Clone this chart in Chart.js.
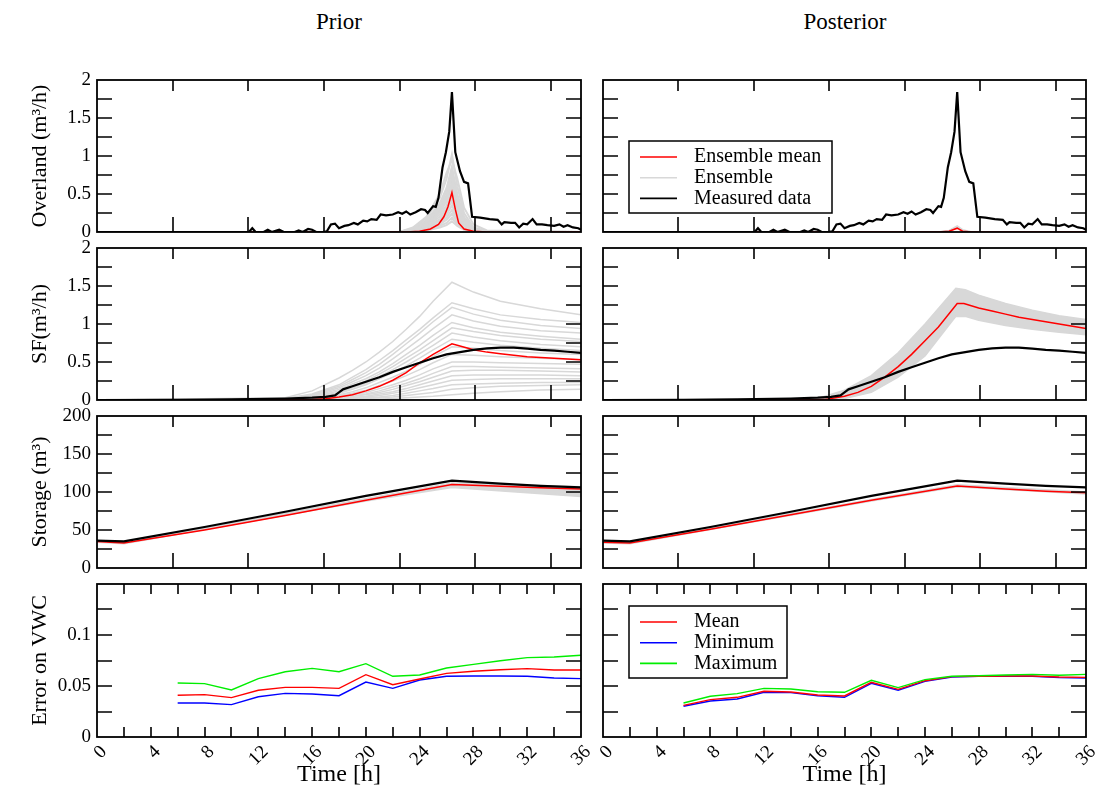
<!DOCTYPE html>
<html>
<head>
<meta charset="utf-8">
<title>Prior / Posterior</title>
<script src="https://cdn.jsdelivr.net/npm/chart.js"></script>
<style>
  body { margin: 0; background: #fff; }
  #figure { position: relative; width: 1102px; height: 797px; overflow: hidden; font-family: "Liberation Serif", "Times New Roman", serif; }
  #figure canvas { position: absolute; }
  .col-title { position: absolute; top: 10px; width: 484px; text-align: center; font-size: 23px; line-height: 23px; color: #000; }
</style>
</head>
<body>
<div id="figure">
  <div class="col-title" style="left:97px">Prior</div>
  <div class="col-title" style="left:603px">Posterior</div>
</div>
<script>
// ---------- tick positions ----------
const coarseTickTimes = [5.625, 11.25, 16.875, 22.5, 28.125, 33.75];
const fineTickTimes = [2, 4, 6, 8, 10, 12, 14, 16, 18, 20, 22, 24, 26, 28, 30, 32, 34];
const flowTickValues = [0.25, 0.5, 0.75, 1, 1.25, 1.5, 1.75];
const storageTickValues = [25, 50, 75, 100, 125, 150, 175];
const vwcTickValues = [0.025, 0.05, 0.075, 0.1, 0.125];

// ---------- overland flow [time h, m3/h] ----------
const overlandMeasured = [
  [0, 0], [11.3, 0], [11.55, 0.05], [11.8, 0], [12.4, 0], [12.7, 0.03], [13.0, 0],
  [13.55, 0.03], [13.9, 0], [14.7, 0], [15.0, 0.02], [15.3, 0], [15.7, 0.04], [16.0, 0.03],
  [16.3, 0], [16.8, 0], [17.1, 0.01], [17.4, 0.1], [17.7, 0.11], [18.0, 0.05], [18.4, 0.08],
  [18.7, 0.09], [19.1, 0.12], [19.4, 0.1], [19.8, 0.15], [20.1, 0.14], [20.4, 0.17], [20.8, 0.16],
  [21.1, 0.23], [21.5, 0.22], [22.0, 0.23], [22.4, 0.26], [22.7, 0.24], [23.0, 0.27], [23.3, 0.23],
  [23.7, 0.26], [24.1, 0.3], [24.4, 0.29], [24.6, 0.25], [25.0, 0.34], [25.2, 0.33], [25.4, 0.45],
  [25.7, 0.85], [25.95, 1.05], [26.2, 1.32], [26.4, 1.84], [26.65, 1.05], [27.0, 0.8], [27.3, 0.66],
  [27.6, 0.64], [27.9, 0.2], [28.5, 0.19], [29.2, 0.17], [29.8, 0.16], [30.1, 0.1], [30.3, 0.13],
  [30.8, 0.12], [31.1, 0.12], [31.4, 0.06], [31.7, 0.11], [32.0, 0.1], [32.4, 0.17], [32.7, 0.1],
  [33.1, 0.1], [33.5, 0.09], [34.0, 0.08], [34.4, 0.1], [34.7, 0.07], [35.0, 0.09], [35.4, 0.06],
  [35.8, 0.05], [36, 0.03]
];
const priorOverlandMean = [
  [0, 0], [23, 0], [24, 0.01], [24.8, 0.04], [25.4, 0.1], [25.8, 0.2], [26.1, 0.33], [26.4, 0.52],
  [26.65, 0.3], [26.9, 0.12], [27.3, 0.04], [28, 0.01], [29, 0], [36, 0]
];
const priorOverlandEnsTime = [0, 22.5, 23.5, 24.5, 25.5, 26, 26.4, 26.8, 27.3, 28, 29, 36];
const priorOverlandEns = [
  [0, 0, 0.05, 0.18, 0.45, 0.7, 1.02, 0.6, 0.25, 0.06, 0.01, 0],
  [0, 0, 0.06, 0.2, 0.5, 0.78, 0.95, 0.7, 0.32, 0.1, 0.02, 0],
  [0, 0, 0.04, 0.15, 0.38, 0.58, 0.86, 0.5, 0.2, 0.05, 0.01, 0],
  [0, 0, 0.04, 0.14, 0.34, 0.53, 0.79, 0.46, 0.18, 0.05, 0.01, 0],
  [0, 0, 0.03, 0.12, 0.31, 0.48, 0.72, 0.42, 0.16, 0.04, 0.01, 0],
  [0, 0, 0.03, 0.11, 0.28, 0.44, 0.66, 0.38, 0.14, 0.04, 0, 0],
  [0, 0, 0.03, 0.1, 0.26, 0.4, 0.6, 0.34, 0.13, 0.03, 0, 0],
  [0, 0, 0.02, 0.09, 0.23, 0.35, 0.53, 0.3, 0.11, 0.03, 0, 0],
  [0, 0, 0.02, 0.08, 0.2, 0.31, 0.47, 0.26, 0.1, 0.02, 0, 0],
  [0, 0, 0.01, 0.07, 0.17, 0.27, 0.41, 0.22, 0.08, 0.02, 0, 0],
  [0, 0, 0.01, 0.06, 0.15, 0.23, 0.35, 0.19, 0.07, 0.02, 0, 0],
  [0, 0, 0.01, 0.05, 0.12, 0.19, 0.29, 0.16, 0.06, 0.01, 0, 0],
  [0, 0, 0.01, 0.04, 0.1, 0.16, 0.24, 0.13, 0.05, 0.01, 0, 0],
  [0, 0, 0, 0.03, 0.08, 0.12, 0.19, 0.1, 0.04, 0.01, 0, 0],
  [0, 0, 0, 0.02, 0.06, 0.09, 0.14, 0.08, 0.03, 0.01, 0, 0]
];
const postOverlandMean = [[0, 0], [25, 0], [25.8, 0.01], [26.4, 0.05], [26.8, 0.01], [27.5, 0], [36, 0]];
const postOverlandEnsTime = [0, 25, 25.8, 26.4, 26.8, 27.5, 36];
const postOverlandEns = [
  [0, 0, 0.02, 0.08, 0.03, 0, 0],
  [0, 0, 0.015, 0.065, 0.02, 0, 0]
];

// ---------- subsurface flow SF [time h, m3/h] ----------
const sfMeasured = [
  [0, 0], [6, 0.003], [10, 0.008], [14, 0.02], [16, 0.03], [17, 0.04], [17.7, 0.06], [18.0, 0.1],
  [18.3, 0.14], [19, 0.18], [20, 0.24], [21, 0.3], [22, 0.37], [23, 0.43], [24, 0.49], [25, 0.55],
  [26, 0.6], [27, 0.63], [28, 0.66], [29, 0.68], [30, 0.69], [31, 0.69], [32, 0.675], [33, 0.66],
  [34, 0.65], [35, 0.635], [36, 0.62]
];
const priorSfMean = [
  [0, 0], [14, 0.002], [16, 0.008], [17, 0.015], [18, 0.04], [19, 0.07], [20, 0.12], [21, 0.18],
  [22, 0.26], [23, 0.36], [24, 0.49], [25, 0.6], [26.4, 0.74], [27.2, 0.7], [28, 0.66], [29, 0.63],
  [30, 0.61], [31, 0.59], [32, 0.57], [33, 0.56], [34, 0.55], [35, 0.54], [36, 0.53]
];
const priorSfEnsTime = [0, 14, 16, 18, 19, 20, 21, 22, 23, 24, 25, 26.4, 28, 30, 33, 36];
const priorSfEns = [
  [0, 0.03, 0.12, 0.29, 0.39, 0.5, 0.63, 0.77, 0.93, 1.1, 1.3, 1.55, 1.42, 1.3, 1.2, 1.12],
  [0, 0.02, 0.08, 0.2, 0.3, 0.4, 0.52, 0.65, 0.79, 0.93, 1.08, 1.28, 1.2, 1.12, 1.06, 1.02],
  [0, 0.02, 0.07, 0.18, 0.27, 0.36, 0.47, 0.6, 0.74, 0.88, 1.03, 1.22, 1.13, 1.05, 0.98, 0.94],
  [0, 0.01, 0.06, 0.16, 0.24, 0.32, 0.42, 0.54, 0.67, 0.8, 0.94, 1.12, 1.04, 0.97, 0.91, 0.88],
  [0, 0.01, 0.05, 0.14, 0.21, 0.28, 0.37, 0.48, 0.6, 0.72, 0.85, 1.02, 0.95, 0.89, 0.84, 0.8],
  [0, 0.01, 0.04, 0.12, 0.18, 0.25, 0.34, 0.44, 0.55, 0.66, 0.78, 0.95, 0.9, 0.85, 0.8, 0.77],
  [0, 0.01, 0.04, 0.1, 0.16, 0.22, 0.31, 0.4, 0.5, 0.61, 0.72, 0.88, 0.83, 0.78, 0.73, 0.7],
  [0, 0.01, 0.03, 0.09, 0.14, 0.2, 0.28, 0.36, 0.45, 0.55, 0.66, 0.8, 0.76, 0.72, 0.68, 0.65],
  [0, 0, 0.02, 0.07, 0.11, 0.16, 0.23, 0.3, 0.38, 0.47, 0.57, 0.7, 0.68, 0.65, 0.62, 0.6],
  [0, 0, 0.02, 0.06, 0.09, 0.13, 0.19, 0.25, 0.32, 0.4, 0.49, 0.6, 0.59, 0.57, 0.55, 0.53],
  [0, 0, 0.01, 0.04, 0.07, 0.1, 0.15, 0.2, 0.26, 0.33, 0.41, 0.5, 0.5, 0.49, 0.48, 0.47],
  [0, 0, 0.01, 0.03, 0.05, 0.08, 0.12, 0.17, 0.22, 0.28, 0.35, 0.44, 0.44, 0.43, 0.42, 0.41],
  [0, 0, 0.01, 0.03, 0.05, 0.07, 0.1, 0.14, 0.19, 0.24, 0.3, 0.38, 0.39, 0.39, 0.38, 0.37],
  [0, 0, 0, 0.02, 0.03, 0.05, 0.08, 0.11, 0.15, 0.2, 0.25, 0.32, 0.33, 0.33, 0.33, 0.32],
  [0, 0, 0, 0.02, 0.03, 0.04, 0.06, 0.09, 0.12, 0.16, 0.2, 0.26, 0.27, 0.28, 0.28, 0.28],
  [0, 0, 0, 0.01, 0.02, 0.03, 0.04, 0.06, 0.09, 0.12, 0.15, 0.2, 0.21, 0.22, 0.23, 0.23],
  [0, 0, 0, 0.01, 0.01, 0.02, 0.03, 0.04, 0.06, 0.08, 0.1, 0.14, 0.16, 0.18, 0.19, 0.2],
  [0, 0, 0, 0, 0, 0.01, 0.01, 0.02, 0.03, 0.04, 0.05, 0.07, 0.09, 0.11, 0.13, 0.14]
];
const postSfMean = [
  [0, 0], [15, 0], [16.5, 0.005], [18, 0.05], [19, 0.1], [20, 0.18], [21, 0.3], [22, 0.44],
  [23, 0.6], [24, 0.78], [25, 0.96], [26.4, 1.27], [26.9, 1.27], [28, 1.21], [29, 1.17],
  [30, 1.13], [31, 1.09], [32, 1.06], [33, 1.03], [34, 1.0], [35, 0.97], [36, 0.94]
];
const postSfBandTime = [0, 15, 16, 18, 20, 22, 24, 26.3, 27, 28, 30, 32, 34, 36];
const postSfUpper = [0, 0, 0.02, 0.13, 0.32, 0.62, 1.0, 1.47, 1.45, 1.38, 1.27, 1.18, 1.11, 1.06];
const postSfLower = [0, 0, 0, 0.02, 0.1, 0.3, 0.58, 1.1, 1.1, 1.05, 0.98, 0.93, 0.89, 0.86];

// ---------- storage [time h, m3] ----------
const storageMeasured = [[0, 36], [2, 35], [8, 54], [14, 74], [20, 95], [26.4, 115], [30, 111], [33, 108], [36, 106]];
const priorStorageMean = [[0, 35], [2, 33], [8, 50], [14, 69], [20, 89], [26.4, 110], [30, 107.5], [33, 105.5], [36, 104]];
const priorStorageUpper = [[0, 36], [2, 34], [20, 91], [26.4, 112], [36, 107]];
const priorStorageLower = [[0, 34], [2, 32], [20, 88], [26.4, 106], [36, 94]];
const postStorageMean = [[0, 34], [2, 33], [8, 51], [14, 70], [20, 89], [26.4, 108], [30, 104], [33, 101], [36, 99]];
const postStorageUpper = [[0, 35], [2, 34], [20, 90], [26.4, 109.5], [36, 100]];
const postStorageLower = [[0, 33], [2, 32], [20, 88], [26.4, 107], [36, 97.5]];

// ---------- error on VWC ----------
const vwcTimes = [6, 8, 10, 12, 14, 16, 18, 20, 22, 24, 26, 28, 30, 32, 34, 36];
const priorVwcMean = [0.041, 0.0415, 0.0386, 0.0458, 0.0487, 0.0487, 0.0477, 0.0611, 0.0513, 0.0569, 0.0624, 0.0644, 0.066, 0.067, 0.0657, 0.0657];
const priorVwcMin = [0.0333, 0.0333, 0.0317, 0.0395, 0.0428, 0.0422, 0.0405, 0.0539, 0.0477, 0.0559, 0.0595, 0.0598, 0.0598, 0.0595, 0.0578, 0.0572];
const priorVwcMax = [0.0529, 0.0523, 0.0461, 0.0572, 0.064, 0.0673, 0.064, 0.0719, 0.0595, 0.0608, 0.0676, 0.0712, 0.0748, 0.0778, 0.0784, 0.0801];
const postVwcMean = [0.031, 0.0366, 0.0389, 0.0448, 0.0441, 0.0412, 0.0402, 0.0536, 0.0467, 0.0552, 0.0592, 0.0595, 0.0598, 0.0598, 0.0588, 0.0585];
const postVwcMin = [0.0301, 0.0353, 0.0373, 0.0438, 0.0435, 0.0405, 0.0389, 0.0526, 0.0458, 0.0546, 0.0588, 0.0595, 0.0595, 0.0595, 0.0582, 0.0578];
const postVwcMax = [0.0333, 0.0399, 0.0425, 0.0477, 0.047, 0.0444, 0.0438, 0.0556, 0.0484, 0.0562, 0.0595, 0.0601, 0.0608, 0.0614, 0.0605, 0.0614];

// ---------- look ----------
const GRAY = '#d8d8d8';
const RED = '#ff0000';
const BLACK = '#000000';
const BLUE = '#0000ff';
const GREEN = '#00ee00';

// panel geometry (canvas boxes); plot areas are 97..581 / 603..1086 wide
// and 80..232, 248..400, 416..568, 584..737 high
const PAD = 18;
const COLS = [
  {left: 0, width: 596, axisW: 97, padRight: 15},
  {left: 590, width: 512, axisW: 13, padRight: 16}
];
const ROWS = [
  {top: 62, height: 188},
  {top: 230, height: 188},
  {top: 398, height: 188},
  {top: 566, height: 231}
];

Chart.defaults.font.family = '"Liberation Serif", "Times New Roman", serif';
Chart.defaults.color = '#000';

/**
 * Box round the plot area, with inward ticks on all four sides
 */
const frameTicks = {
  id: 'frameTicks',
  afterDatasetsDraw(chart, args, opts) {
    const {ctx, chartArea: a, scales: {x, y}} = chart;
    ctx.save();
    ctx.strokeStyle = '#000';
    ctx.lineWidth = 1.6;
    ctx.beginPath();
    opts.xTicks.forEach(v => {
      const px = Math.round(x.getPixelForValue(v));
      ctx.moveTo(px, a.bottom);
      ctx.lineTo(px, a.bottom - opts.xLenBottom);
      ctx.moveTo(px, a.top);
      ctx.lineTo(px, a.top + opts.xLenTop);
    });
    opts.yTicks.forEach(v => {
      const py = Math.round(y.getPixelForValue(v));
      ctx.moveTo(a.left, py);
      ctx.lineTo(a.left + opts.yLen, py);
      ctx.moveTo(a.right, py);
      ctx.lineTo(a.right - opts.yLen, py);
    });
    ctx.stroke();
    ctx.lineWidth = 1.8;
    ctx.strokeRect(a.left, a.top, a.right - a.left, a.bottom - a.top);
    ctx.restore();
  }
};

/**
 * Legend drawn inside the plot area, xmgrace style
 */
const insetLegend = {
  id: 'insetLegend',
  afterDraw(chart, args, opts) {
    if (!opts.entries) return;
    const {ctx, chartArea: a} = chart;
    const x0 = a.left + opts.dx;
    const y0 = a.top + opts.dy;
    ctx.save();
    ctx.fillStyle = '#fff';
    ctx.fillRect(x0, y0, opts.w, opts.h);
    ctx.strokeStyle = '#000';
    ctx.lineWidth = 1.5;
    ctx.strokeRect(x0, y0, opts.w, opts.h);
    ctx.font = '20px "Liberation Serif", serif';
    ctx.textBaseline = 'middle';
    opts.entries.forEach((label, i) => {
      const ds = chart.data.datasets.find(d => d.label === label);
      const yy = y0 + 16 + i * 20.7;
      ctx.strokeStyle = ds.borderColor;
      ctx.lineWidth = 1.6;
      ctx.beginPath();
      ctx.moveTo(x0 + 11, yy);
      ctx.lineTo(x0 + 48, yy);
      ctx.stroke();
      ctx.fillStyle = '#000';
      ctx.fillText(label, x0 + 65, yy);
    });
    ctx.restore();
  }
};

function pts(pairs) {
  return pairs.map(([x, y]) => ({x, y}));
}

function zipPts(times, values) {
  return times.map((t, i) => ({x: t, y: values[i]}));
}

function line(label, data, color, width, fill) {
  return {
    label: label,
    data: data,
    borderColor: color,
    backgroundColor: color,
    borderWidth: width,
    pointRadius: 0,
    tension: 0,
    fill: fill || false
  };
}

function ensemble(times, members, width) {
  return members.map((vals, i) => line(i === 0 ? 'Ensemble' : '', zipPts(times, vals), GRAY, width || 1.5));
}

// one entry per panel
const FLOW = {yMax: 2, yStep: 0.5, yTicks: flowTickValues};
const STORE = {yMax: 200, yStep: 50, yTicks: storageTickValues};
const VWC = {yMax: 0.15, yStep: 0.05, yTicks: vwcTickValues, hideTop: true};

const panels = [
  {col: 0, row: 0, ...FLOW, title: 'Overland (m³/h)', datasets: [
    line('Measured data', pts(overlandMeasured), BLACK, 2.2),
    line('Ensemble mean', pts(priorOverlandMean), RED, 1.5),
    ...ensemble(priorOverlandEnsTime, priorOverlandEns, 2)
  ]},
  {col: 1, row: 0, ...FLOW, datasets: [
    line('Measured data', pts(overlandMeasured), BLACK, 2.2),
    line('Ensemble mean', pts(postOverlandMean), RED, 1.5),
    ...ensemble(postOverlandEnsTime, postOverlandEns)
  ], legend: {dx: 26, dy: 61, w: 203, h: 72, entries: ['Ensemble mean', 'Ensemble', 'Measured data']}},
  {col: 0, row: 1, ...FLOW, title: 'SF(m³/h)', datasets: [
    line('Measured data', pts(sfMeasured), BLACK, 2.2),
    line('Ensemble mean', pts(priorSfMean), RED, 1.5),
    ...ensemble(priorSfEnsTime, priorSfEns)
  ]},
  {col: 1, row: 1, ...FLOW, datasets: [
    line('Measured data', pts(sfMeasured), BLACK, 2.2),
    line('Ensemble mean', pts(postSfMean), RED, 1.5),
    line('Ensemble', zipPts(postSfBandTime, postSfUpper), GRAY, 1.5),
    line('', zipPts(postSfBandTime, postSfLower), GRAY, 1.5, '-1')
  ]},
  {col: 0, row: 2, ...STORE, title: 'Storage (m³)', datasets: [
    line('Measured data', pts(storageMeasured), BLACK, 2.2),
    line('Ensemble mean', pts(priorStorageMean), RED, 1.5),
    line('Ensemble', pts(priorStorageUpper), GRAY, 1.5),
    line('', pts(priorStorageLower), GRAY, 1.5, '-1')
  ]},
  {col: 1, row: 2, ...STORE, datasets: [
    line('Measured data', pts(storageMeasured), BLACK, 2.2),
    line('Ensemble mean', pts(postStorageMean), RED, 1.5),
    line('Ensemble', pts(postStorageUpper), GRAY, 1.5),
    line('', pts(postStorageLower), GRAY, 1.5, '-1')
  ]},
  {col: 0, row: 3, ...VWC, title: 'Error on VWC', datasets: [
    line('Maximum', zipPts(vwcTimes, priorVwcMax), GREEN, 1.4),
    line('Mean', zipPts(vwcTimes, priorVwcMean), RED, 1.4),
    line('Minimum', zipPts(vwcTimes, priorVwcMin), BLUE, 1.4)
  ]},
  {col: 1, row: 3, ...VWC, datasets: [
    line('Maximum', zipPts(vwcTimes, postVwcMax), GREEN, 1.4),
    line('Mean', zipPts(vwcTimes, postVwcMean), RED, 1.4),
    line('Minimum', zipPts(vwcTimes, postVwcMin), BLUE, 1.4)
  ], legend: {dx: 26, dy: 22, w: 158, h: 72, entries: ['Mean', 'Minimum', 'Maximum']}}
];

/**
 * Options for one panel
 */
function buildOptions(p) {
  const col = COLS[p.col];
  const isBottom = p.row === 3;
  const isLeft = p.col === 0;
  return {
    responsive: false,
    animation: false,
    events: [],
    layout: {padding: {top: PAD, right: col.padRight, bottom: isBottom ? 0 : PAD, left: 0}},
    plugins: {
      legend: {display: false},
      tooltip: {enabled: false},
      frameTicks: {
        xTicks: isBottom ? fineTickTimes : coarseTickTimes,
        xLenTop: isBottom ? 10 : 11,
        xLenBottom: isBottom ? 10 : 15,
        yTicks: p.yTicks,
        yLen: 15
      },
      insetLegend: p.legend || {}
    },
    scales: {
      x: {
        type: 'linear',
        min: 0,
        max: 36,
        display: isBottom,
        grid: {display: false, drawTicks: false},
        border: {display: false},
        ticks: {
          stepSize: 4,
          autoSkip: false,
          minRotation: 45,
          maxRotation: 45,
          padding: 4,
          labelOffset: 7,
          font: {size: 19}
        },
        title: {display: isBottom, text: 'Time [h]', font: {size: 24}, padding: {top: 0, bottom: 8}},
        afterFit: s => {
          if (isBottom) s.height = 60;
          // rotated end labels must not shrink the plot area
          s.paddingLeft = 0;
          s.paddingRight = 0;
        }
      },
      y: {
        type: 'linear',
        min: 0,
        max: p.yMax,
        grid: {display: false, drawTicks: false},
        border: {display: false},
        ticks: {
          display: isLeft,
          stepSize: p.yStep,
          padding: 6,
          font: {size: 19},
          callback: v => (p.hideTop && v > p.yMax - 1e-9) ? '' : String(+v.toFixed(3))
        },
        title: {display: isLeft && !!p.title, text: p.title || '', font: {size: 22}, padding: {top: 27, bottom: 0}},
        afterFit: s => { s.width = col.axisW; }
      }
    }
  };
}

function makeCanvas(col, row) {
  const c = document.createElement('canvas');
  c.width = col.width;
  c.height = row.height;
  c.style.left = col.left + 'px';
  c.style.top = row.top + 'px';
  c.style.width = col.width + 'px';
  c.style.height = row.height + 'px';
  document.getElementById('figure').appendChild(c);
  return c;
}

function initCharts() {
  panels.forEach(p => {
    const canvas = makeCanvas(COLS[p.col], ROWS[p.row]);
    new Chart(canvas, {
      type: 'line',
      data: {datasets: p.datasets},
      options: buildOptions(p),
      plugins: [frameTicks, insetLegend]
    });
  });
}

initCharts();
</script>
</body>
</html>
